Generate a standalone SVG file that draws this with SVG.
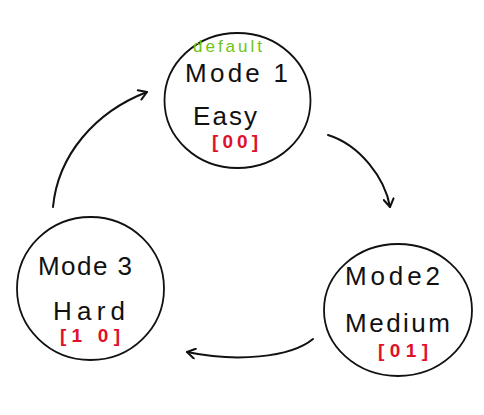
<svg xmlns="http://www.w3.org/2000/svg" width="484" height="415" viewBox="0 0 484 415">
<defs>
<style>
.node{fill:#fff;stroke:#111;stroke-width:1.8}
.t{font-family:"Liberation Sans","DejaVu Sans",sans-serif;fill:#111;font-size:26px}
.code{font-family:"Liberation Sans","DejaVu Sans",sans-serif;fill:#e0102a;font-size:19px;font-weight:bold}
.def{font-family:"Liberation Sans","DejaVu Sans",sans-serif;fill:#6cc417;font-size:17px}
.edge{fill:none;stroke:#111;stroke-width:2;stroke-linecap:round}
</style>
<marker id="arr" viewBox="-10 -6 12 12" refX="0" refY="0" markerWidth="12" markerHeight="12" markerUnits="userSpaceOnUse" orient="auto">
<path d="M-8,-5 L0,0 L-8,5" fill="none" stroke="#111" stroke-width="2" stroke-linecap="round" stroke-linejoin="round"/>
</marker>
</defs>
<rect width="484" height="415" fill="#fff"/>
<g id="connectors">
<path class="edge" d="M53,207 C58,155 95,112 147,92" marker-end="url(#arr)"/>
<path class="edge" d="M328,135 C360,145 385,178 390,207" marker-end="url(#arr)"/>
<path class="edge" d="M313,339 C290,358 235,362 187,352" marker-end="url(#arr)"/>
</g>
<g id="mode1">
<ellipse class="node" cx="237.5" cy="100.5" rx="73" ry="67.5"/>
<text class="def" x="193" y="52" textLength="69" lengthAdjust="spacing">default</text>
<text class="t" x="185" y="82" textLength="103" lengthAdjust="spacing">Mode 1</text>
<text class="t" x="193" y="125" textLength="64" lengthAdjust="spacing">Easy</text>
<text class="code" x="212" y="148" textLength="46" lengthAdjust="spacing">[00]</text>
</g>
<g id="mode2">
<ellipse class="node" cx="398" cy="310" rx="74" ry="66"/>
<text class="t" x="345" y="285" textLength="95" lengthAdjust="spacing">Mode2</text>
<text class="t" x="345" y="332" textLength="105" lengthAdjust="spacing">Medium</text>
<text class="code" x="378" y="357" textLength="50" lengthAdjust="spacing">[01]</text>
</g>
<g id="mode3">
<ellipse class="node" cx="90.5" cy="288.5" rx="73.5" ry="71.5"/>
<text class="t" x="38" y="275" textLength="94" lengthAdjust="spacing">Mode 3</text>
<text class="t" x="53" y="320" textLength="72" lengthAdjust="spacing">Hard</text>
<text class="code" x="60" y="342" textLength="60" lengthAdjust="spacing">[1 0]</text>
</g>
</svg>
